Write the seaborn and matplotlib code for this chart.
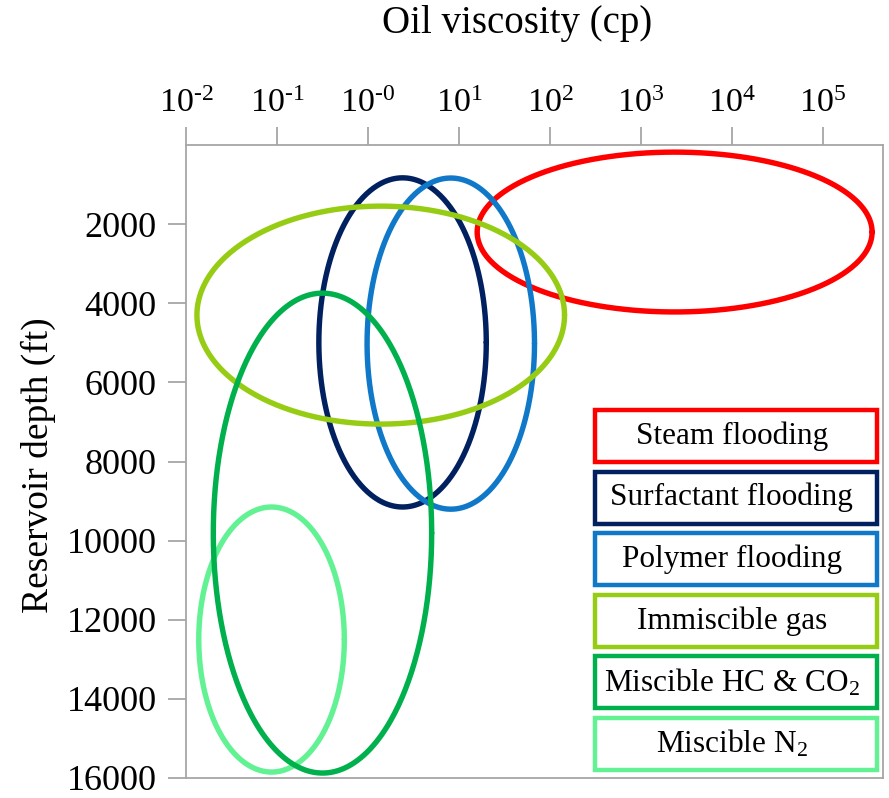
import numpy as np
import pandas as pd
import matplotlib
matplotlib.use("Agg")
import matplotlib.pyplot as plt
import seaborn as sns
from matplotlib.patches import Rectangle

# EOR screening windows: each method spans an elliptical region in
# (log10 viscosity, depth) space.
methods = ["Steam flooding", "Surfactant flooding", "Polymer flooding",
           "Immiscible gas", "Miscible HC & CO$_2$", "Miscible N$_2$"]
log_visc_center = [3.37, 0.38, 0.91, 0.14, -0.50, -1.06]
log_visc_halfwidth = [2.17, 0.92, 0.92, 2.02, 1.20, 0.80]
depth_center = [2200, 4990, 5020, 4300, 9810, 12500]
depth_halfheight = [2020, 4160, 4185, 2755, 6065, 3350]
colors = ["#FF0000", "#002060", "#0F78C8", "#96CC14", "#00B04C", "#62F294"]

x_ticks_exp = [-2, -1, 0, 1, 2, 3, 4, 5]
x_tick_labels = ["10$^{\\text{-2}}$", "10$^{\\text{-1}}$", "10$^{\\text{-0}}$",
                 "10$^{1}$", "10$^{2}$", "10$^{3}$", "10$^{4}$", "10$^{5}$"]
y_ticks = [2000, 4000, 6000, 8000, 10000, 12000, 14000, 16000]

sns.set_theme(style="white")
plt.rcParams["font.family"] = ["Liberation Serif", "DejaVu Serif"]
plt.rcParams["mathtext.fontset"] = "custom"
plt.rcParams["mathtext.rm"] = "Liberation Serif"
plt.rcParams["mathtext.it"] = "Liberation Serif:italic"
plt.rcParams["mathtext.bf"] = "Liberation Serif:bold"

# Build the closed outline of every region
t = np.linspace(0, 2 * np.pi, 400)
frames = []
for name, cx, rx, cy, ry in zip(methods, log_visc_center, log_visc_halfwidth,
                                depth_center, depth_halfheight):
    frames.append(pd.DataFrame({
        "method": name,
        "order": np.arange(len(t)),
        "viscosity": 10 ** (cx + rx * np.cos(t)),
        "depth": cy + ry * np.sin(t),
    }))
df = pd.concat(frames, ignore_index=True)

fig = plt.figure(figsize=(8.89, 7.98), dpi=100)
ax = fig.add_axes([186 / 889, 1 - 778 / 798, 697 / 889, 633 / 798])

draw_order = [0, 1, 2, 3, 5, 4]
for i in draw_order:
    sub = df[df["method"] == methods[i]]
    sns.lineplot(data=sub, x="viscosity", y="depth", sort=False,
                 estimator=None, color=colors[i], linewidth=3.9, ax=ax,
                 legend=False)

ax.set_xscale("log")
ax.set_xlim(10 ** -2, 10 ** 5.66)
ax.set_ylim(16000, 0)

ax.xaxis.set_ticks_position("top")
ax.xaxis.set_label_position("top")
ax.set_xticks([10.0 ** e for e in x_ticks_exp])
ax.set_xticklabels(x_tick_labels)
ax.xaxis.set_minor_locator(matplotlib.ticker.NullLocator())
ax.set_yticks(y_ticks)
ax.set_yticklabels([str(v) for v in y_ticks])

spine_col = "#A6A6A6"
for s in ax.spines.values():
    s.set_visible(True)
    s.set_color(spine_col)
    s.set_linewidth(1.3)
ax.tick_params(axis="both", which="major", direction="out", length=13,
               width=1.3, color=spine_col, labelcolor="black")
ax.tick_params(axis="x", top=True, bottom=False, labeltop=True,
               labelbottom=False, labelsize=24.5, pad=6)
ax.tick_params(axis="y", left=True, right=False, labelsize=26, pad=8)

ax.set_xlabel("Oil viscosity (cp)", fontsize=28, color="black",
              va="baseline")
ax.xaxis.set_label_coords(0.4756, (778 - 33) / 633)
ax.set_ylabel("Reservoir depth (ft)", fontsize=27, color="black",
              va="center")
ax.yaxis.set_label_coords((38 - 186) / 697, (778 - 465) / 633)
ax.grid(False)

# Boxed key in the lower right corner
box_left, box_w = 0.587, 0.404
box_h = 52 / 633
pitch = 61.6 / 633
first_top = (778 - 410) / 633
for i, name in enumerate(methods):
    top = first_top - i * pitch
    ax.add_patch(Rectangle((box_left, top - box_h), box_w, box_h,
                           transform=ax.transAxes, facecolor="white",
                           edgecolor=colors[i], linewidth=3.2, zorder=5))
    ax.text(box_left + box_w / 2 - 0.006, top - box_h / 2, name,
            transform=ax.transAxes, ha="center", va="center",
            fontsize=22.5, color="black", zorder=6)

fig.savefig("out.png", dpi=100)
